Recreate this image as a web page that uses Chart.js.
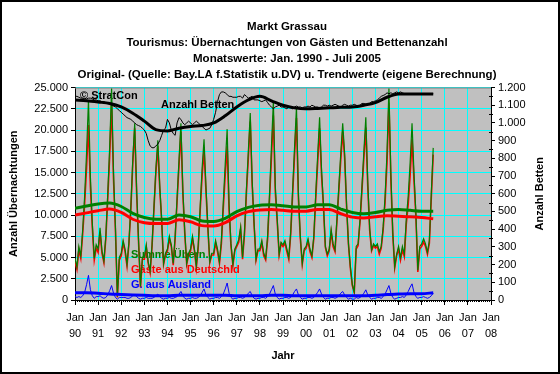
<!DOCTYPE html>
<html>
<head>
<meta charset="utf-8">
<script src="https://cdn.jsdelivr.net/npm/chart.js@4.4.0/dist/chart.umd.min.js"></script>
<style>
  html, body { margin: 0; padding: 0; background: #fff; }
  canvas { display: block; }
</style>
</head>
<body>
<canvas id="chart" width="560" height="374"></canvas>
<script>
// x axis: one tick per January, 1990 .. 2008
const yearLabels = ['90', '91', '92', '93', '94', '95', '96', '97', '98', '99',
  '00', '01', '02', '03', '04', '05', '06', '07', '08']

// monthly values, index 0 = Jan 1990, last = Jul 2005
const summe = [
  4900, 3900, 6300, 5200, 8300, 12200, 17300, 23500, 14500, 9000, 4900, 6500,
  6000, 8500, 5800, 4600, 7500, 12500, 18000, 24900, 15000, 8500, 400, 5000,
  5500, 7000, 6000, 4200, 6800, 11000, 16500, 20800, 13000, 7000, 1600, 5000,
  5000, 6500, 4500, 3400, 6500, 11000, 15500, 18800, 13500, 9500, 4300, 5500,
  6000, 7500, 6500, 4300, 7500, 12000, 16500, 20800, 13000, 8000, 4300, 5500,
  6000, 7500, 6000, 4000, 6500, 11000, 15500, 18900, 13400, 8600, 4500, 5500,
  5500, 7000, 6000, 4500, 7000, 11500, 16000, 20100, 11300, 6600, 4200, 6000,
  6500, 7100, 8600, 5000, 8000, 13000, 17500, 22000, 14000, 9000, 4800, 6000,
  6000, 7000, 5500, 4900, 7500, 12500, 18000, 23400, 13400, 9500, 5400, 6800,
  6500, 7000, 6000, 5000, 8000, 13000, 18000, 22700, 12500, 7500, 4300, 6000,
  6300, 7200, 6000, 5200, 7500, 12500, 17000, 21500, 15400, 11300, 6300, 5400,
  6000, 8300, 6600, 5900, 9500, 13400, 17300, 20800, 17300, 11300, 6600, 3900,
  1800, 950, 6300, 6600, 9500, 13400, 17500, 21500, 14000, 8500, 5900, 6600,
  6300, 6600, 5700, 6300, 8600, 12200, 17300, 24900, 15000, 8000, 3900, 5400,
  6300, 5000, 6300, 5400, 9500, 12200, 16100, 20800, 15000, 10200, 3500, 6300,
  6600, 7200, 6600, 5600, 7000, 12500, 17900
]

const deutschland = [
  4500, 3600, 5900, 4900, 7800, 11300, 15500, 20600, 13300, 8500, 4700, 6100,
  5600, 8000, 5500, 4400, 7200, 11900, 16900, 23200, 14200, 8200, 300, 4700,
  5200, 6700, 5700, 4000, 6600, 10700, 16000, 20200, 12600, 6800, 1500, 4800,
  4800, 6200, 4300, 3200, 6300, 10700, 15000, 18100, 13100, 9300, 4200, 5300,
  5800, 7200, 6300, 4100, 7200, 11600, 15800, 19800, 12500, 7800, 4200, 5300,
  5800, 7200, 5800, 3800, 6200, 10500, 14600, 17600, 12800, 8300, 4400, 5300,
  5300, 6700, 5700, 4300, 6600, 10800, 14700, 18100, 10500, 6300, 4100, 5800,
  6300, 6800, 8300, 4800, 7700, 12500, 16700, 21000, 13500, 8800, 4700, 5800,
  5800, 6700, 5200, 4700, 7100, 11800, 16800, 21700, 12700, 9200, 5300, 6600,
  6300, 6700, 5700, 4800, 7700, 12400, 17000, 21400, 11900, 7200, 4200, 5800,
  6100, 6900, 5700, 5000, 7200, 11900, 16100, 20200, 14700, 11000, 6200, 5200,
  5800, 8000, 6300, 5700, 9200, 12900, 16500, 19800, 16700, 11000, 6500, 3700,
  1700, 850, 6000, 6400, 9200, 12900, 16700, 20300, 13400, 8200, 5800, 6400,
  6100, 6300, 5400, 6100, 8200, 11500, 16100, 23200, 14200, 7700, 3800, 5200,
  6000, 4700, 5900, 5100, 8900, 11200, 14600, 18900, 14100, 9800, 3300, 6000,
  6300, 6800, 6300, 5400, 6700, 12000, 17100
]

const ausland = [
  400, 300, 400, 300, 500, 900, 1800, 2900, 1200, 500, 200, 400,
  400, 500, 300, 200, 300, 600, 1100, 1700, 800, 300, 100, 300,
  300, 300, 300, 200, 200, 300, 500, 600, 400, 200, 100, 200,
  200, 300, 200, 200, 200, 300, 500, 700, 400, 200, 100, 200,
  200, 300, 200, 200, 300, 400, 700, 1000, 500, 200, 100, 200,
  200, 300, 200, 200, 300, 500, 900, 1300, 600, 300, 100, 200,
  200, 300, 300, 200, 400, 700, 1300, 2000, 800, 300, 100, 200,
  200, 300, 300, 200, 300, 500, 800, 1000, 500, 200, 100, 200,
  200, 300, 300, 200, 400, 700, 1200, 1700, 700, 300, 100, 200,
  200, 300, 300, 200, 300, 600, 1000, 1300, 600, 300, 100, 200,
  200, 300, 300, 200, 300, 600, 900, 1300, 700, 300, 100, 200,
  200, 300, 300, 200, 300, 500, 800, 1000, 600, 300, 100, 200,
  100, 100, 300, 200, 300, 500, 800, 1200, 600, 300, 100, 200,
  200, 300, 300, 200, 400, 700, 1200, 1700, 800, 300, 100, 200,
  300, 300, 400, 300, 600, 1000, 1500, 1900, 900, 400, 200, 300,
  300, 400, 300, 200, 300, 500, 800
]

const betten = [
  1150, 1150, 1145, 1140, 1140, 1140, 1135, 1140, 1140, 1135, 1130, 1130,
  1125, 1125, 1120, 1120, 1115, 1110, 1110, 1100, 1095, 1090, 1080, 1070,
  1060, 1050, 1040, 1030, 1025, 1020, 1010, 1000, 990, 985, 980, 970,
  960, 940, 900, 870, 860, 860, 870, 880, 900, 930, 960, 970,
  1020, 1000, 960, 940, 930, 1000, 1030, 1020, 1000, 990, 1000, 1010,
  1000, 990, 1000, 1010, 1000, 990, 980, 970, 960, 965, 970, 990,
  1020, 1060, 1120, 1160, 1175, 1175, 1170, 1160, 1150, 1150, 1145, 1145,
  1145, 1150, 1150, 1140, 1160, 1150, 1140, 1145, 1150, 1130, 1130, 1130,
  1125, 1120, 1125, 1130, 1115, 1100, 1090, 1080, 1090, 1095, 1100, 1090,
  1090, 1085, 1080, 1090, 1085, 1080, 1090, 1095, 1090, 1090, 1085, 1090,
  1090, 1095, 1090, 1100, 1095, 1090, 1090, 1085, 1090, 1100, 1100, 1095,
  1100, 1095, 1100, 1105, 1100, 1095, 1090, 1100, 1105, 1100, 1095, 1100,
  1100, 1105, 1100, 1095, 1100, 1110, 1110, 1105, 1100, 1110, 1120, 1120,
  1125, 1130, 1140, 1150, 1155, 1160, 1170, 1165, 1170, 1165, 1170, 1175,
  1170, 1175, 1170, 1165, 1165, 1165, 1165, 1165, 1165, 1165, 1165, 1165,
  1165, 1165, 1165, 1165, 1165, 1165, 1165
]

// trend values, read every 6 months
const trendMonate = [0, 6, 12, 18, 24, 30, 36, 42, 48, 54, 60, 66, 72, 78, 84, 90,
  96, 102, 108, 114, 120, 126, 132, 138, 144, 150, 156, 162, 168, 174, 180, 186]
const trendSumme = [10800, 11050, 11300, 11400, 11000, 10200, 9700, 9500, 9500, 10000,
  9800, 9300, 9250, 9600, 10400, 10900, 11150, 11200, 11100, 10950, 10950, 11200,
  11200, 10700, 10300, 10150, 10300, 10550, 10650, 10550, 10450, 10450]
const trendDeutschland = [10000, 10250, 10500, 10700, 10300, 9500, 9100, 9000, 9000, 9450,
  9200, 8750, 8700, 9100, 9900, 10400, 10600, 10650, 10550, 10450, 10450, 10650,
  10650, 10150, 9750, 9650, 9800, 9900, 9850, 9800, 9700, 9550]
const trendAusland = [850, 850, 800, 700, 650, 600, 550, 500, 500, 550, 550, 550, 550,
  550, 500, 500, 500, 550, 550, 500, 500, 500, 500, 500, 500, 500, 550, 650, 700,
  750, 750, 850]
const trendBetten = [1130, 1125, 1118, 1110, 1090, 1055, 1010, 962, 955, 970, 980, 985,
  1000, 1040, 1090, 1130, 1150, 1125, 1100, 1085, 1080, 1082, 1085, 1088, 1090,
  1100, 1115, 1145, 1163, 1164, 1164, 1164]

const titleLines = [
  'Markt Grassau',
  'Tourismus: Übernachtungen von Gästen und Bettenanzahl',
  'Monatswerte: Jan. 1990 - Juli 2005',
  'Original- (Quelle: Bay.LA f.Statistik u.DV) u. Trendwerte (eigene Berechnung)'
]

const GREEN = '#008000'
const RED = '#ff0000'
const BLUE = '#0000ff'
const CYAN = '#00ffff'
const FONT = "'Liberation Sans', Arial, Helvetica, sans-serif"

Chart.defaults.font.family = FONT
Chart.defaults.font.size = 11
Chart.defaults.color = '#000'

const fmt = (v) => String(v).replace(/\B(?=(\d{3})+(?!\d))/g, '.')
const monthly = (vals) => vals.map((v, i) => ({ x: i, y: v }))
const trend = (vals) => vals.map((v, i) => ({ x: trendMonate[i], y: v }))

// background, titles, labels inside the plot, minor ticks, frame
const decor = {
  id: 'decor',
  beforeDraw(chart) {
    const { ctx, chartArea: a } = chart
    ctx.save()
    ctx.fillStyle = '#fff'
    ctx.fillRect(0, 0, chart.width, chart.height)
    ctx.fillStyle = '#c0c0c0'
    ctx.fillRect(a.left, a.top, a.right - a.left, a.bottom - a.top)
    ctx.restore()
  },
  beforeDatasetsDraw(chart) {
    const { ctx } = chart
    ctx.save()
    ctx.font = 'bold 11px ' + FONT
    ctx.textBaseline = 'middle'
    ctx.fillStyle = '#000'
    ctx.fillText('© StratCon', 80, 96)
    ctx.fillText('Anzahl Betten', 161, 105)
    ctx.fillStyle = GREEN
    ctx.fillText('Summe Übern.', 131, 255)
    ctx.fillStyle = RED
    ctx.fillText('Gäste aus Deutschld', 131, 270)
    ctx.fillStyle = BLUE
    ctx.fillText('G. aus Ausland', 131, 285)
    ctx.restore()
  },
  afterDraw(chart) {
    const { ctx, chartArea: a, scales } = chart
    ctx.save()
    // top edge of the plot
    ctx.strokeStyle = '#808080'
    ctx.lineWidth = 1
    ctx.beginPath()
    ctx.moveTo(a.left, a.top + 0.5)
    ctx.lineTo(a.right, a.top + 0.5)
    ctx.stroke()

    // monthly minor ticks on the time axis
    ctx.strokeStyle = '#000'
    ctx.beginPath()
    for (let m = 0; m <= 216; m++) {
      const px = Math.round(scales.x.getPixelForValue(m)) + 0.5
      ctx.moveTo(px, a.bottom)
      ctx.lineTo(px, a.bottom + 2)
    }
    // minor ticks on the beds axis
    for (let v = 50; v < 1200; v += 100) {
      const py = Math.round(scales.y2.getPixelForValue(v)) + 0.5
      ctx.moveTo(a.right - 2, py)
      ctx.lineTo(a.right + 2, py)
    }
    ctx.stroke()

    // titles
    ctx.fillStyle = '#000'
    ctx.font = 'bold 11.5px ' + FONT
    ctx.textAlign = 'center'
    ctx.textBaseline = 'middle'
    titleLines.forEach((t, i) => ctx.fillText(t, 287, 27 + i * 16))

    // right axis title, reading upwards
    ctx.font = 'bold 11px ' + FONT
    ctx.translate(540, (a.top + a.bottom) / 2)
    ctx.rotate(-Math.PI / 2)
    ctx.fillText('Anzahl Betten', 0, 0)
    ctx.setTransform(1, 0, 0, 1, 0, 0)

    // outer frame
    ctx.strokeStyle = '#000'
    ctx.lineWidth = 2
    ctx.strokeRect(1, 1, chart.width - 2, chart.height - 2)
    ctx.restore()
  }
}

new Chart(document.getElementById('chart'), {
  type: 'line',
  data: {
    datasets: [
      { data: monthly(deutschland), borderColor: RED, borderWidth: 1.6, order: 6 },
      { data: monthly(summe), borderColor: GREEN, borderWidth: 1.2, order: 5 },
      { data: monthly(ausland), borderColor: BLUE, borderWidth: 1, order: 4 },
      { data: monthly(betten), borderColor: '#000', borderWidth: 1, yAxisID: 'y2', order: 4 },
      { data: trend(trendDeutschland), borderColor: RED, borderWidth: 3, cubicInterpolationMode: 'monotone', order: 2 },
      { data: trend(trendSumme), borderColor: GREEN, borderWidth: 3, cubicInterpolationMode: 'monotone', order: 2 },
      { data: trend(trendAusland), borderColor: BLUE, borderWidth: 3, cubicInterpolationMode: 'monotone', order: 2 },
      { data: trend(trendBetten), borderColor: '#000', borderWidth: 3, cubicInterpolationMode: 'monotone', yAxisID: 'y2', order: 1 }
    ]
  },
  options: {
    responsive: false,
    animation: false,
    layout: { padding: { top: 87.5, left: 0, right: 0, bottom: 0 } },
    elements: { point: { radius: 0 }, line: { tension: 0, fill: false } },
    plugins: { legend: { display: false }, tooltip: { enabled: false } },
    scales: {
      x: {
        type: 'linear',
        min: 0,
        max: 216,
        ticks: {
          stepSize: 12,
          autoSkip: false,
          maxRotation: 0,
          padding: 5,
          font: { size: 11, lineHeight: '16px' },
          callback: (v) => ['Jan', yearLabels[v / 12]]
        },
        grid: { color: CYAN, tickColor: '#000', tickLength: 5 },
        border: { color: '#000' },
        title: { display: true, text: 'Jahr', font: { size: 11, weight: 'bold' }, padding: { top: 0, bottom: 11 } },
        afterFit: (s) => { s.height = 74 }
      },
      y: {
        position: 'left',
        min: 0,
        max: 25000,
        ticks: { stepSize: 2500, padding: 3, callback: (v) => fmt(v) },
        grid: { color: CYAN, tickColor: '#000', tickLength: 4 },
        border: { color: '#000' },
        title: { display: true, text: 'Anzahl Übernachtungen', font: { size: 11, weight: 'bold' }, padding: { top: 7, bottom: 0 } },
        afterFit: (s) => { s.width = 75 }
      },
      y2: {
        position: 'right',
        min: 0,
        max: 1200,
        ticks: { stepSize: 100, padding: 3, callback: (v) => fmt(v) },
        grid: { drawOnChartArea: false, tickColor: '#000', tickLength: 4 },
        border: { color: '#000' },
        afterFit: (s) => { s.width = 69 }
      }
    }
  },
  plugins: [decor]
})
</script>
</body>
</html>
